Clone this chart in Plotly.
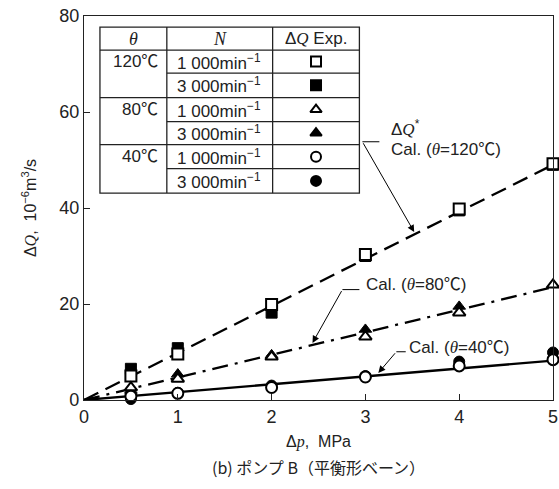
import plotly.graph_objects as go

# ---------------- data ----------------
dp = [0.5, 1, 2, 3, 4, 5]
q120_1000 = [5.0, 9.6, 19.9, 30.3, 39.8, 49.2]
q120_3000 = [6.5, 10.8, 18.2, 30.0, 39.5, 49.0]
q80_1000 = [2.6, 4.4, 9.0, 13.2, 18.2, 24.0]
q80_3000 = [2.0, 5.4, 9.4, 14.7, 19.5, 24.0]
q40_1000 = [0.8, 1.4, 2.6, 4.8, 7.1, 8.4]
q40_3000 = [0.2, 1.5, 3.0, 5.0, 8.0, 9.9]

cal_x = [0, 5]
cal_120 = [0, 49.0]
cal_80 = [0, 23.5]
cal_40 = [0, 8.2]

x_ticks = [0, 1, 2, 3, 4, 5]
y_ticks = [0, 20, 40, 60, 80]

temps = ["120℃", "80℃", "40℃"]
speeds = ["1 000min<sup>−1</sup>", "3 000min<sup>−1</sup>"]

SERIF = "Liberation Serif"
SANS = "Liberation Sans, Arial, Noto Sans CJK JP"
def it(s):
    return f'<span style="font-family:{SERIF}"><i>{s}</i></span>'

fig = go.Figure()

# calculation lines
fig.add_trace(go.Scatter(x=cal_x, y=cal_120, mode="lines",
                         line=dict(color="black", width=2.3, dash="16px,8px")))
fig.add_trace(go.Scatter(x=cal_x, y=cal_80, mode="lines",
                         line=dict(color="black", width=2.3, dash="16px,7px,3px,7px")))
fig.add_trace(go.Scatter(x=cal_x, y=cal_40, mode="lines",
                         line=dict(color="black", width=2.3)))

MS = 11
def filled(y, sym):
    fig.add_trace(go.Scatter(x=dp, y=y, mode="markers", cliponaxis=False,
                             marker=dict(symbol=sym, size=MS, color="black",
                                         line=dict(color="black", width=1))))
def opened(y, sym):
    fig.add_trace(go.Scatter(x=dp, y=y, mode="markers", cliponaxis=False,
                             marker=dict(symbol=sym, size=MS, color="white",
                                         line=dict(color="black", width=2))))

filled(q120_3000, "square")
filled(q80_3000, "triangle-up")
filled(q40_3000, "circle")
opened(q120_1000, "square")
opened(q80_1000, "triangle-up")
opened(q40_1000, "circle")

# ---------------- legend table ----------------
tx0, tx1, tx2, tx3 = 0.170, 0.883, 2.011, 2.936
ty_top, ty_head = 77.7, 72.9
row_lines = [68.1, 63.0, 58.0, 53.2, 48.2, 43.1]
shapes = []
line_style = dict(color="#222", width=1.3)
shapes.append(dict(type="rect", xref="x", yref="y", x0=tx0, x1=tx3, y0=row_lines[-1], y1=ty_top,
                   line=line_style, fillcolor="white", layer="below"))
shapes.append(dict(type="line", xref="x", yref="y", x0=tx0, x1=tx3, y0=ty_head, y1=ty_head, line=line_style))
for i, yl in enumerate(row_lines[:-1]):
    x_start = tx1 if i % 2 == 0 else tx0
    shapes.append(dict(type="line", xref="x", yref="y", x0=x_start, x1=tx3, y0=yl, y1=yl, line=line_style))
for xv in (tx1, tx2):
    shapes.append(dict(type="line", xref="x", yref="y", x0=xv, x1=xv, y0=row_lines[-1], y1=ty_top, line=line_style))

annotations = []
FS = 17
head_y = (ty_top + ty_head) / 2
annotations += [
    dict(x=(tx0 + tx1) / 2, y=head_y, text=it("θ"), font=dict(size=FS + 1, family=SERIF)),
    dict(x=(tx1 + tx2) / 2, y=head_y, text=it("N"), font=dict(size=FS + 1, family=SERIF)),
    dict(x=(tx2 + tx3) / 2, y=head_y, text="Δ" + it("Q") + " Exp.", font=dict(size=FS)),
]
row_edges = [ty_head] + row_lines
row_centers = [(row_edges[i] + row_edges[i + 1]) / 2 for i in range(6)]
for i in range(6):
    if i % 2 == 0:
        annotations.append(dict(x=tx1 - 0.07, y=row_centers[i], text=temps[i // 2],
                                xanchor="right", font=dict(size=FS)))
    annotations.append(dict(x=tx1 + 0.09, y=row_centers[i], text=speeds[i % 2],
                            xanchor="left", font=dict(size=FS)))

leg_x = [(tx2 + tx3) / 2] * 6
leg_sym = ["square", "square", "triangle-up", "triangle-up", "circle", "circle"]
leg_col = ["white", "black", "white", "black", "white", "black"]
fig.add_trace(go.Scatter(x=leg_x, y=row_centers, mode="markers",
                         marker=dict(symbol=leg_sym, size=10, color=leg_col,
                                     line=dict(color="black", width=2))))

# ---------------- leaders & labels ----------------
thin = dict(color="black", width=1)
# 120
shapes.append(dict(type="line", xref="x", yref="y", x0=2.968, x1=3.149, y0=53.8, y1=53.8, line=thin))
annotations.append(dict(x=3.52, y=35.0, ax=2.968, ay=53.8, axref="x", ayref="y", text="",
                        showarrow=True, arrowhead=2, arrowsize=1.4, arrowwidth=1, arrowcolor="black"))
annotations.append(dict(x=3.255, y=56.6, text="Δ" + it("Q") + "<sup>*</sup>", xanchor="left", font=dict(size=FS)))
annotations.append(dict(x=3.255, y=52.1, text="Cal. (" + it("θ") + "=120℃)", xanchor="left", font=dict(size=FS)))
# 80
shapes.append(dict(type="line", xref="x", yref="y", x0=2.755, x1=2.936, y0=23.0, y1=23.0, line=thin))
annotations.append(dict(x=2.436, y=11.9, ax=2.755, ay=23.0, axref="x", ayref="y", text="",
                        showarrow=True, arrowhead=2, arrowsize=1.4, arrowwidth=1, arrowcolor="black"))
annotations.append(dict(x=2.99, y=24.1, text="Cal. (" + it("θ") + "=80℃)", xanchor="left", font=dict(size=FS)))
# 40
shapes.append(dict(type="line", xref="x", yref="y", x0=3.33, x1=3.43, y0=10.05, y1=10.05, line=thin))
annotations.append(dict(x=3.138, y=5.65, ax=3.33, ay=10.05, axref="x", ayref="y", text="",
                        showarrow=True, arrowhead=2, arrowsize=1.4, arrowwidth=1, arrowcolor="black"))
annotations.append(dict(x=3.447, y=10.9, text="Cal. (" + it("θ") + "=40℃)", xanchor="left", font=dict(size=FS)))

for a in annotations:
    a.setdefault("xref", "x")
    a.setdefault("yref", "y")
    a.setdefault("showarrow", False)

# caption
annotations.append(dict(xref="paper", yref="paper", x=0.5, y=-0.175, yanchor="middle",
                        text="(b) ポンプ B（平衡形ベーン）", showarrow=False,
                        font=dict(size=16, family="Noto Sans CJK JP")))

fig.update_layout(
    width=559, height=489,
    margin=dict(l=84, r=6, t=16, b=89),
    paper_bgcolor="white", plot_bgcolor="white",
    showlegend=False,
    font=dict(family=SANS, color="#222", size=17),
    shapes=shapes, annotations=annotations,
    xaxis=dict(range=[0, 5], tickvals=x_ticks, ticks="inside", ticklen=6, tickcolor="#222",
               showline=True, linecolor="#222", linewidth=1.3, mirror=True, showgrid=False,
               zeroline=False, tickfont=dict(size=18), ticklabeloverflow="allow", automargin=False,
               title=dict(text="Δ" + it("p") + ",  MPa", font=dict(size=16), standoff=10)),
    yaxis=dict(range=[0, 80], tickvals=y_ticks, ticks="inside", ticklen=6, tickcolor="#222",
               showline=True, linecolor="#222", linewidth=1.3, mirror=True, showgrid=False,
               zeroline=False, tickfont=dict(size=18), automargin=False,
               title=dict(text="Δ" + it("Q") + ",  10<sup>−6</sup>m<sup>3</sup>/s", font=dict(size=16), standoff=18)),
)

fig.write_html("out.html")
